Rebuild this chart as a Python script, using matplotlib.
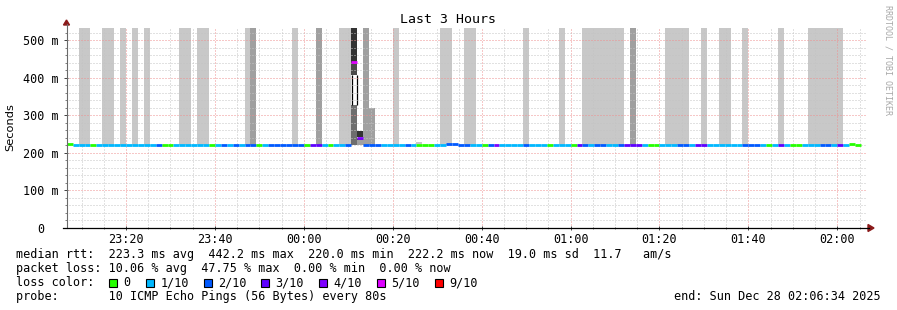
import matplotlib
matplotlib.use("Agg")
import matplotlib.pyplot as plt
from matplotlib.ticker import FixedLocator, MultipleLocator
from matplotlib.patches import Rectangle, Polygon
from matplotlib.lines import Line2D

# Datos: 134 pasos de 80 s, el paso 0 empieza 40 pasos antes de las 00:00
paso_min = 80 / 60
primer_paso = -40

# perdida por paso (pings perdidos de 10)
perdida = [0, 1, 1, 1, 0, 1, 1, 1, 1, 1,
           1, 1, 1, 1, 1, 2, 0, 0, 1, 1,
           1, 1, 1, 1, 0, 1, 2, 1, 2, 1,
           2, 2, 0, 1, 2, 2, 2, 2, 2, 2,
           0, 3, 3, 1, 0, 1, 1, 2, 5, 4,
           2, 2, 2, 1, 1, 1, 1, 2, 1, 0,
           0, 0, 1, 1, 2, 2, 2, 2, 1, 1,
           0, 2, 4, 1, 1, 1, 1, 2, 1, 1,
           1, 0, 1, 1, 1, 0, 3, 2, 1, 2,
           2, 1, 1, 2, 3, 3, 3, 1, 0, 0,
           1, 1, 1, 2, 2, 1, 3, 3, 1, 1,
           1, 1, 1, 1, 2, 2, 2, 1, 0, 1,
           3, 1, 0, 0, 1, 1, 1, 2, 2, 1,
           3, 1, 0, 0]

# mediana rtt por paso (ms)
mediana = [223.0, 220.5, 220.5, 220.5, 222.0, 222.5, 222.5, 222.0, 222.0, 222.5,
           222.5, 222.0, 222.0, 222.5, 222.0, 221.5, 222.0, 222.0, 222.0, 222.0,
           222.0, 222.0, 221.5, 221.5, 222.0, 222.0, 222.0, 221.5, 222.0, 222.0,
           222.0, 222.0, 222.5, 221.5, 221.5, 221.5, 221.5, 221.5, 221.5, 221.5,
           221.5, 221.5, 221.5, 222.0, 222.0, 222.0, 222.0, 221.5, 442.2, 241.0,
           221.0, 221.0, 221.0, 221.5, 221.5, 221.5, 221.5, 221.5, 221.5, 221.5,
           221.5, 221.5, 222.0, 222.0, 223.5, 223.5, 221.0, 221.0, 221.0, 221.0,
           221.0, 221.0, 221.0, 221.0, 221.0, 221.0, 221.0, 221.0, 221.0, 221.0,
           221.0, 221.0, 221.0, 221.0, 221.0, 221.0, 221.0, 221.0, 221.0, 221.0,
           221.0, 220.5, 220.5, 220.5, 220.5, 220.5, 220.5, 220.5, 220.5, 220.5,
           220.5, 220.5, 220.5, 220.5, 220.5, 220.5, 220.5, 220.5, 220.0, 220.0,
           220.5, 220.5, 220.5, 220.5, 220.5, 220.5, 220.5, 220.5, 220.5, 220.5,
           220.5, 220.5, 220.5, 220.5, 220.5, 220.5, 220.5, 220.5, 220.5, 220.5,
           220.5, 221.0, 223.5, 222.2]

# humo (dispersion de pings): paso, desde, hasta (ms), tono 0=blanco 1..5 = gris claro..oscuro
humo_paso = [2, 3, 6, 7, 9, 11, 13, 19, 20, 22, 23, 30, 38, 46, 47, 55, 63, 64, 67, 68,
             77, 83, 87, 88, 89, 90, 91, 92, 93, 101, 102, 103, 104, 107, 110, 111,
             114, 120, 125, 126, 127, 128, 129, 130,
             31, 42, 50, 95, 51, 59,
             48, 48, 48, 48, 49, 49, 49]
humo_desde = [221] * 44 + [221, 221, 221, 221, 221, 223,
                           221, 328, 408, 442, 221, 235, 243]
humo_hasta = [900] * 44 + [900, 900, 900, 900, 320, 230,
                           328, 408, 442, 900, 235, 239, 259]
humo_tono = [1] * 44 + [2, 2, 2, 2, 2, 1,
                        3, 0, 4, 5, 2, 4, 5]

etiquetas_x = ["23:20", "23:40", "00:00", "00:20", "00:40", "01:00", "01:20", "01:40", "02:00"]
ticks_x = [-40, -20, 0, 20, 40, 60, 80, 100, 120]
ticks_y = [0, 100, 200, 300, 400, 500]
etiquetas_y = ["0  ", "100 m", "200 m", "300 m", "400 m", "500 m"]

colores_perdida = ["#26ff00", "#00b8ff", "#0059ff", "#5e00ff", "#7e00ff", "#dd00ff",
                   "#dd00ff", "#dd00ff", "#dd00ff", "#ff0000", "#ff0000"]
leyenda_perdida = ["0", "1/10", "2/10", "3/10", "4/10", "5/10", "9/10"]
leyenda_color = ["#26ff00", "#00b8ff", "#0059ff", "#5e00ff", "#7e00ff", "#dd00ff", "#ff0000"]

grises = {0: "white", 1: "#c8c8c8", 2: "#a0a0a0", 3: "#6e6e6e", 4: "#4a4a4a", 5: "#333333"}
MONO = "DejaVu Sans Mono"

W, H = 897, 310
def fx(x):
    return x / W
def fy(y):
    return 1 - y / H

fig = plt.figure(figsize=(W / 100, H / 100), dpi=100)
ax = fig.add_axes([fx(66.3), fy(228), (866.5 - 66.3) / W, 200 / H])

# humo
inicio = [(p + primer_paso) * paso_min for p in humo_paso]
ax.bar(inicio, [h - d for d, h in zip(humo_desde, humo_hasta)], bottom=humo_desde,
       width=paso_min, align="edge", color=[grises[t] for t in humo_tono],
       linewidth=0, zorder=1)
# borde negro de la franja blanca
for p, d, h, t in zip(humo_paso, humo_desde, humo_hasta, humo_tono):
    if t == 0:
        x0 = (p + primer_paso) * paso_min
        ax.vlines([x0 + 0.1, x0 + paso_min - 0.1], d, h, colors="black", linewidth=0.9, zorder=2)

# mediana coloreada por perdida
t0 = [(i + primer_paso) * paso_min for i in range(len(mediana))]
t1 = [t + paso_min for t in t0]
ax.hlines(mediana, t0, t1, colors=[colores_perdida[l] for l in perdida],
          linewidth=2.0, capstyle="butt", zorder=3)

ax.set_xlim(-53.4333, 126.5667)
ax.set_ylim(0, 533.3)

ax.xaxis.set_major_locator(FixedLocator(ticks_x))
ax.set_xticklabels(etiquetas_x)
ax.xaxis.set_minor_locator(MultipleLocator(5))
ax.yaxis.set_major_locator(FixedLocator(ticks_y))
ax.set_yticklabels(etiquetas_y)
ax.yaxis.set_minor_locator(MultipleLocator(20))

ax.set_axisbelow(False)
ax.grid(which="minor", color="#c4c4c4", linestyle=(0, (1, 2)), linewidth=0.72)
ax.grid(which="major", color="#ee9090", linestyle=(0, (1, 2)), linewidth=0.72)

ax.tick_params(which="major", direction="inout", length=3, width=0.7, color="#404040")
ax.tick_params(which="minor", direction="inout", length=1.6, width=0.7, color="#808080")
ax.tick_params(axis="x", which="major", pad=2)
ax.tick_params(axis="y", which="major", pad=3.7)
for lab in ax.get_xticklabels() + ax.get_yticklabels():
    lab.set_fontfamily(MONO)
    lab.set_fontsize(8.5)

for s in ["top", "right", "left", "bottom"]:
    ax.spines[s].set_visible(False)

# ejes con flechas
fig.add_artist(Line2D([fx(66.5), fx(66.5)], [fy(228), fy(24)], color="#6a6a6a", linewidth=0.8))
fig.add_artist(Line2D([fx(62.5), fx(869)], [fy(228), fy(228)], color="black", linewidth=0.9))
fig.add_artist(Polygon([[fx(63.5), fy(25)], [fx(69.5), fy(25)], [fx(66.5), fy(20)]],
                       closed=True, color="#8b1a1a"))
fig.add_artist(Polygon([[fx(868), fy(224.5)], [fx(868), fy(231.5)], [fx(874), fy(228)]],
                       closed=True, color="#8b1a1a"))

# textos
fig.text(fx(447.5), fy(19.5), "Last 3 Hours", ha="center", va="center", fontsize=9.5, family=MONO)
fig.text(fx(10.5), fy(127), "Seconds", rotation=90, ha="center", va="center", fontsize=8.2,
         family="DejaVu Sans")
fig.text(fx(888), fy(60), "RRDTOOL / TOBI OETIKER", rotation=270, ha="center", va="center",
         fontsize=6, family=MONO, color="#a8a8a8")

lineas = [
    "median rtt:  223.3 ms avg  442.2 ms max  220.0 ms min  222.2 ms now  19.0 ms sd  11.7   am/s",
    "packet loss: 10.06 % avg  47.75 % max  0.00 % min  0.00 % now",
    "loss color:",
    "probe:       10 ICMP Echo Pings (56 Bytes) every 80s",
]
bases = [258.3, 272.3, 286.3, 300.3]
for txt, b in zip(lineas, bases):
    fig.text(fx(16), fy(b), txt, ha="left", va="baseline", fontsize=8.5, family=MONO)
fig.text(fx(880.5), fy(bases[3]), "end: Sun Dec 28 02:06:34 2025", ha="right", va="baseline",
         fontsize=8.5, family=MONO)

cuadro_x = [109, 146, 204, 261.3, 319.3, 377.3, 435]
for x, c, lab in zip(cuadro_x, leyenda_color, leyenda_perdida):
    fig.add_artist(Rectangle((fx(x), fy(286.5)), 7.5 / W, 7.5 / H, facecolor=c,
                             edgecolor="black", linewidth=0.8))
    fig.text(fx(x + 14.3), fy(bases[2]), lab, ha="left", va="baseline", fontsize=8.5, family=MONO)

fig.savefig("out.png", dpi=100, facecolor="white")
